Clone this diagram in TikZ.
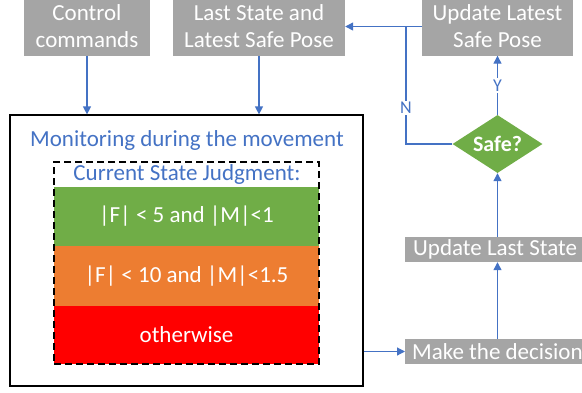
\documentclass[tikz,border=0pt]{standalone}
\usepackage{fontspec}
\setmainfont{Carlito}
\usetikzlibrary{shapes.geometric,arrows.meta}
\definecolor{boxgray}{HTML}{A5A5A5}
\definecolor{linkblue}{HTML}{4472C4}
\definecolor{okgreen}{HTML}{70AD47}
\definecolor{warnorange}{HTML}{ED7D31}
\definecolor{badred}{HTML}{FF0000}

\begin{document}
\begin{tikzpicture}[x=1pt,y=-1pt]
\tikzset{graybox/.style={fill=boxgray, text=white, align=center, inner sep=0pt, font=\fontsize{23}{27}\selectfont},
  band/.style={minimum width=265pt, inner sep=0pt, text=white, font=\fontsize{23}{27}\selectfont},
  lien/.style={draw=linkblue, line width=1.2pt, -{Triangle[length=8pt,width=8pt]}},
  etiq/.style={fill=white, text=linkblue, font=\fontsize{18}{20}\selectfont, inner sep=1.5pt}}
\useasboundingbox (0,0) rectangle (582,392);
\node[graybox, minimum width=126pt, minimum height=58pt] (Cmd) at (87,26.5) {Control\\commands};
\node[graybox, minimum width=172pt, minimum height=58pt] (Last) at (259,26.5) {Last State and\\Latest Safe Pose};
\node[graybox, minimum width=151pt, minimum height=58pt] (Upd) at (497.5,26.5) {Update Latest\\Safe Pose};
\node[draw=black, line width=1.2pt, minimum width=353pt, minimum height=271pt, inner sep=0pt] (Mon) at (186.5,250.5) {};
\node[text=linkblue, font=\fontsize{23}{27}\selectfont] (MonT) at (187,140) {Monitoring during the movement};
\node[band, fill=okgreen, minimum height=59pt] (B1) at (186.5,216.5) {|F| < 5 and |M|<1};
\node[band, fill=warnorange, minimum height=60pt] (B2) at (186.5,276) {|F| < 10 and |M|<1.5};
\node[band, fill=badred, minimum height=58pt] (B3) at (186.5,335) {otherwise};
\node[draw=black, line width=1.2pt, dash pattern=on 7pt off 4pt, minimum width=265pt, minimum height=202pt, inner sep=0pt] (Jug) at (186.5,263) {};
\node[text=linkblue, font=\fontsize{23}{27}\selectfont] (JugT) at (187,174) {Current State Judgment:};
\node[diamond, fill=okgreen, text=white, font=\bfseries\fontsize{22}{24}\selectfont, minimum width=90pt, minimum height=58pt, aspect=1.55, inner sep=0pt] (Safe) at (497.5,144) {Safe?};
\node[graybox, anchor=west, minimum height=25pt, inner xsep=8pt] (Uls) at (405,249.5) {Update Last State};
\node[graybox, anchor=west, minimum height=25pt, inner xsep=7pt] (Mk) at (405,351.5) {Make the decision};
\coordinate (Nj) at (406,26.5);
\draw[lien] (Cmd.south) -- (Cmd.south |- Mon.north);
\draw[lien] (Last.south) -- (Last.south |- Mon.north);
\draw[lien] (Upd.west) -- (Last.east);
\draw[draw=linkblue, line width=1.2pt] (Safe.west) -| (Nj) node[etiq, pos=0.653] {N};
\draw[lien] (Safe.north) -- (Upd.south) node[etiq, midway] {Y};
\draw[lien] (Uls.north -| Safe) -- (Safe.south);
\draw[lien] (Mk.north -| Safe) -- (Uls.south -| Safe);
\draw[lien] (Mon.east |- Mk.west) -- (Mk.west);
\end{tikzpicture}
\end{document}
